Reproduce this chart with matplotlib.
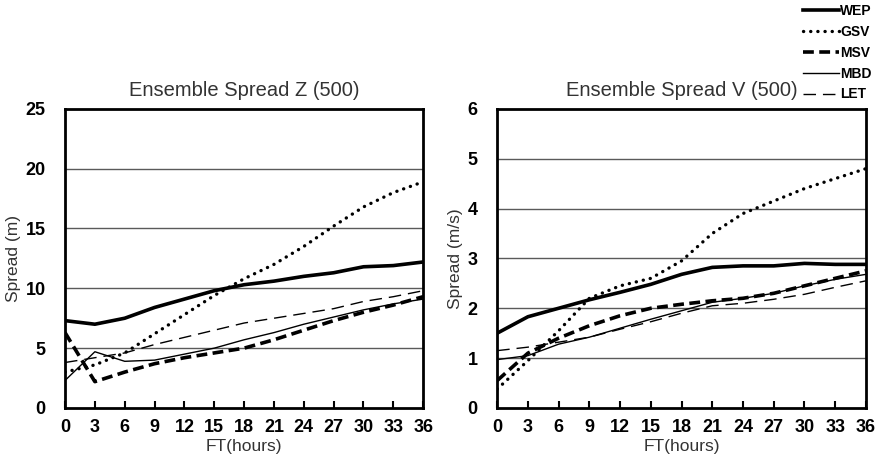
import matplotlib.pyplot as plt

plt.rcParams['font.family'] = ['Liberation Sans', 'DejaVu Sans']

ft = [0, 3, 6, 9, 12, 15, 18, 21, 24, 27, 30, 33, 36]

# Spread Z (500), m
z_wep = [7.3, 7.0, 7.5, 8.4, 9.1, 9.8, 10.3, 10.6, 11.0, 11.3, 11.8, 11.9, 12.2]
z_gsv = [3.0, 3.6, 4.6, 6.2, 7.8, 9.4, 10.8, 12.0, 13.5, 15.2, 16.8, 18.0, 18.9]
z_msv = [6.3, 2.2, 3.0, 3.7, 4.2, 4.6, 5.0, 5.7, 6.5, 7.3, 8.0, 8.6, 9.3]
z_mbd = [2.3, 4.7, 3.9, 4.0, 4.5, 5.0, 5.7, 6.3, 7.0, 7.6, 8.2, 8.7, 9.1]
z_let = [3.8, 4.2, 4.6, 5.3, 5.9, 6.5, 7.1, 7.5, 7.9, 8.3, 8.9, 9.3, 9.8]

# Spread V (500), m/s
v_wep = [1.5, 1.83, 2.0, 2.17, 2.32, 2.48, 2.68, 2.82, 2.85, 2.85, 2.9, 2.88, 2.88]
v_gsv = [0.38, 0.95, 1.55, 2.2, 2.45, 2.6, 2.95, 3.5, 3.9, 4.15, 4.4, 4.6, 4.8]
v_msv = [0.55, 1.1, 1.4, 1.65, 1.85, 2.0, 2.08, 2.15, 2.2, 2.3, 2.45, 2.6, 2.75]
v_mbd = [0.97, 1.05, 1.28, 1.42, 1.6, 1.78, 1.95, 2.12, 2.2, 2.3, 2.45, 2.58, 2.68]
v_let = [1.15, 1.22, 1.32, 1.42, 1.58, 1.73, 1.9, 2.05, 2.1, 2.18, 2.28, 2.42, 2.55]

names = ['WEP', 'GSV', 'MSV', 'MBD', 'LET']
styles = [
    dict(lw=2.6, ls='-'),
    dict(lw=2.4, ls=(0, (0.05, 2.1)), dash_capstyle='round'),
    dict(lw=2.6, ls=(0, (3, 1.5))),
    dict(lw=1.0, ls='-'),
    dict(lw=1.0, ls=(0, (9, 5))),
]

fig = plt.figure(figsize=(8.8, 4.66), dpi=100)
ax1 = fig.add_axes([0.0739, 0.1245, 0.407, 0.642])
ax2 = fig.add_axes([0.565, 0.1245, 0.419, 0.642])


def draw(ax, series, ymax, ystep, title, ylabel):
    for name, vals, st in zip(names, series, styles):
        ax.plot(ft, vals, color='black', label=name, **st)
    ax.set_xlim(0, 36)
    ax.set_ylim(0, ymax)
    ax.set_xticks(ft)
    ax.set_yticks(range(0, ymax + 1, ystep))
    for y in range(ystep, ymax, ystep):
        ax.axhline(y, color='#5a5a5a', lw=1.0, zorder=0)
    for s in ax.spines.values():
        s.set_linewidth(2.0)
    ax.tick_params(axis='x', direction='in', length=5, width=1.5, pad=8)
    ax.tick_params(axis='y', length=0, pad=14)
    for lab in ax.get_xticklabels() + ax.get_yticklabels():
        lab.set_fontweight('bold')
        lab.set_fontsize(13)
    ax.set_title(title, fontsize=14.5, color='#333333', pad=9)
    ax.set_xlabel('FT(hours)', fontsize=12.5, color='#333333', labelpad=2)
    ax.set_ylabel(ylabel, fontsize=12.5, color='#333333', labelpad=3)


draw(ax1, [z_wep, z_gsv, z_msv, z_mbd, z_let], 25, 5,
     'Ensemble Spread Z (500)', 'Spread (m)')
draw(ax2, [v_wep, v_gsv, v_msv, v_mbd, v_let], 6, 1,
     'Ensemble Spread V (500)', 'Spread (m/s)')

handles, labels = ax1.get_legend_handles_labels()
leg = fig.legend(handles, labels, loc='upper right', bbox_to_anchor=(1.0, 1.01),
                 frameon=False, fontsize=10, handlelength=2.6,
                 handletextpad=0.1, labelspacing=0.5, borderaxespad=0.2)
for t in leg.get_texts():
    t.set_fontweight('bold')

fig.savefig('out.png', dpi=100)
